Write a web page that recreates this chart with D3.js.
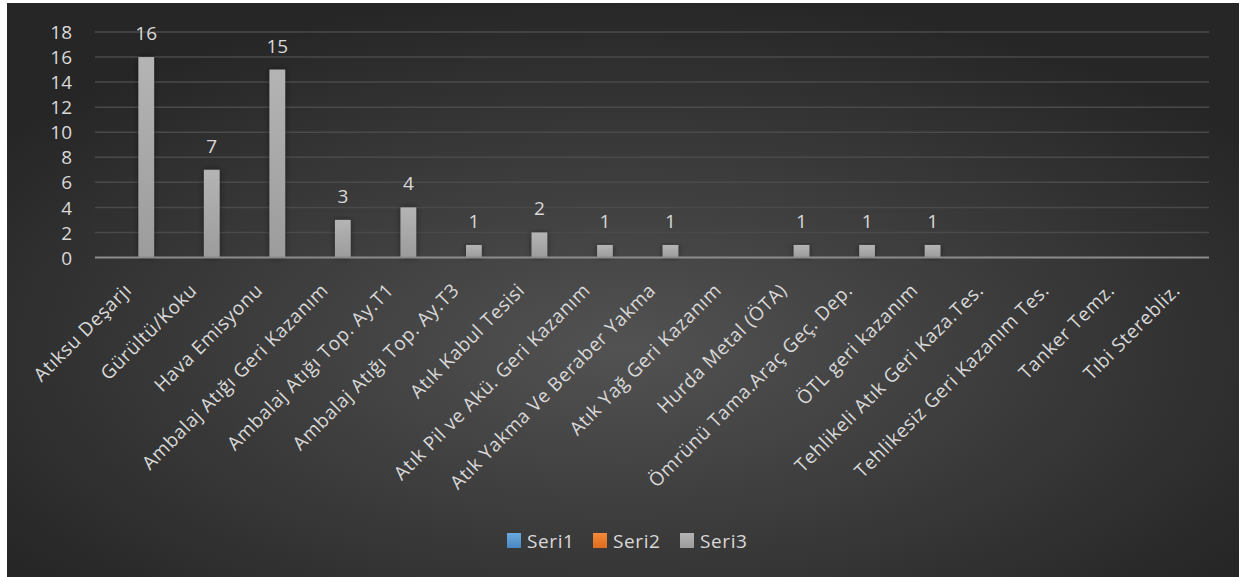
<!DOCTYPE html>
<html><head><meta charset="utf-8">
<script src="https://cdn.jsdelivr.net/npm/d3@7"></script>
<style>html,body{margin:0;padding:0;background:#fff;}svg{display:block;}</style>
</head><body>
<svg id="c" width="1240" height="577"></svg>
<script>
const categories = ["Atıksu Deşarjı","Gürültü/Koku","Hava Emisyonu","Ambalaj Atığı Geri Kazanım","Ambalaj Atığı Top. Ay.T1","Ambalaj Atığı Top. Ay.T3","Atık Kabul Tesisi","Atık Pil ve Akü. Geri Kazanım","Atık Yakma Ve Beraber Yakma","Atık Yağ Geri Kazanım","Hurda Metal (ÖTA)","Ömrünü Tama.Araç Geç. Dep.","ÖTL geri kazanım","Tehlikeli Atık Geri Kaza.Tes.","Tehlikesiz Geri Kazanım Tes.","Tanker Temz.","Tıbi Sterebliz."];
const seriesNames = ["Seri1","Seri2","Seri3"];
const seri1 = [null,null,null,null,null,null,null,null,null,null,null,null,null,null,null,null,null];
const seri2 = [null,null,null,null,null,null,null,null,null,null,null,null,null,null,null,null,null];
const seri3 = [16,7,15,3,4,1,2,1,1,null,1,1,1,null,null,null,null];
const yTicks = [0,2,4,6,8,10,12,14,16,18];

(function(){
const svg = d3.select("#c");
const defs = svg.append("defs");
const bg = defs.append("radialGradient").attr("id","bg").attr("cx","50%").attr("cy","60%").attr("r","62%");
bg.append("stop").attr("offset","0%").attr("stop-color","#525252");
bg.append("stop").attr("offset","100%").attr("stop-color","#262626");
const grads = [["g1","#6aaae0","#4a86c0"],["g2","#f58a3a","#e06c20"],["g3","#b4b4b4","#9c9c9c"]];
grads.forEach(([id,a,b])=>{
  const g=defs.append("linearGradient").attr("id",id).attr("x1",0).attr("y1",0).attr("x2",0).attr("y2",1);
  g.append("stop").attr("offset","0%").attr("stop-color",a);
  g.append("stop").attr("offset","100%").attr("stop-color",b);
});
const sh = defs.append("filter").attr("id","sh").attr("x","-50%").attr("y","-10%").attr("width","200%").attr("height","130%");
sh.append("feDropShadow").attr("dx",0).attr("dy",0).attr("stdDeviation",3).attr("flood-color","#000").attr("flood-opacity",0.45);

svg.append("rect").attr("x",7).attr("y",3).attr("width",1232).attr("height",574).attr("fill","url(#bg)");

const pl=95, pr=1209, pt=32, pb=257.5;
const x = d3.scaleBand().domain(categories).range([pl,pr]).paddingInner(0).paddingOuter(0);
const xs = d3.scaleBand().domain(seriesNames).range([6.4, 59.1]).paddingInner(0.15);
const y = d3.scaleLinear().domain([0,18]).range([pb,pt]);

svg.append("g").selectAll("line").data(yTicks.filter(d=>d>0)).join("line")
  .attr("x1",pl).attr("x2",pr).attr("y1",d=>y(d)).attr("y2",d=>y(d))
  .attr("stroke","#4a4a4a").attr("stroke-width",1.5);

const yAxis = d3.axisLeft(y).tickValues(yTicks).tickSize(0).tickPadding(0);
const ya = svg.append("g").attr("transform","translate(72,0)").call(yAxis);
ya.select(".domain").remove();
ya.selectAll("text").attr("fill","#d9d9d9").attr("font-family","Open Sans").attr("font-size",19).attr("text-anchor","end").attr("dy","0.35em");

const series=[seri1,seri2,seri3];
series.forEach((vals,si)=>{
  const g=svg.append("g");
  const data = categories.map((c,i)=>({c,v:vals[i]})).filter(d=>d.v!=null);
  g.selectAll("rect").data(data).join("rect")
    .attr("x",d=>x(d.c)+xs(seriesNames[si])).attr("width",xs.bandwidth())
    .attr("y",d=>y(d.v)).attr("height",d=>y(0)-y(d.v))
    .attr("fill","url(#g"+(si+1)+")").attr("filter","url(#sh)");
  g.selectAll("text").data(data).join("text")
    .attr("x",d=>x(d.c)+xs(seriesNames[si])+xs.bandwidth()/2).attr("y",d=>y(d.v)-17)
    .attr("text-anchor","middle").attr("fill","#d9d9d9").attr("font-family","Open Sans").attr("font-size",19)
    .text(d=>d.v);
});

svg.append("line").attr("x1",pl).attr("x2",pr).attr("y1",y(0)).attr("y2",y(0)).attr("stroke","#8c8c8c").attr("stroke-width",2);

const xAxis = d3.axisBottom(x).tickSize(0).tickPadding(0);
const xa = svg.append("g").attr("transform",`translate(0,${pb})`).call(xAxis);
xa.select(".domain").remove();
xa.selectAll("text").attr("fill","#d9d9d9").attr("font-family","Open Sans").attr("font-size",19).attr("letter-spacing","0.6px")
  .attr("text-anchor","end").attr("y",0).attr("dy",0)
  .attr("transform","translate(5,34) rotate(-45)");

const lg = svg.append("g");
const lx=[507,593,680];
seriesNames.forEach((s,i)=>{
  lg.append("rect").attr("x",lx[i]).attr("y",533).attr("width",14).attr("height",15).attr("fill","url(#g"+(i+1)+")");
  lg.append("text").attr("x",lx[i]+20).attr("y",548).attr("fill","#d9d9d9").attr("font-family","Open Sans").attr("font-size",19).attr("letter-spacing","0.6px").text(s);
});
})();
</script>
</body></html>
